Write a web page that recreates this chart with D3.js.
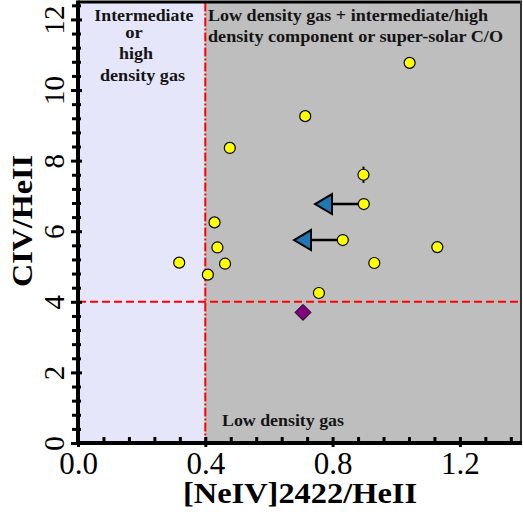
<!DOCTYPE html>
<html>
<head>
<meta charset="utf-8">
<script src="https://cdn.jsdelivr.net/npm/d3@7"></script>
<style>
  html, body { margin: 0; padding: 0; background: #fff; }
  svg { display: block; }
  text { font-family: "Liberation Serif", "Times New Roman", Times, serif; }
</style>
</head>
<body>
<svg id="chart" width="523" height="516"></svg>
<script>
// [NeIV]2422/HeII vs CIV/HeII measurements
const neivHeii = [1.042, 0.714, 0.477, 0.897, 0.898, 0.832, 0.429, 0.438, 0.318, 0.462, 0.408, 0.757, 0.931, 1.129];
const civHeii  = [10.77, 9.26, 8.36, 7.60, 6.77, 5.75, 6.25, 5.54, 5.11, 5.08, 4.77, 4.25, 5.10, 5.55];
const civErr   = [0, 0, 0, 0.23, 0, 0, 0, 0, 0, 0, 0, 0, 0, 0];

// Upper limits on [NeIV]2422/HeII (arrow from the detection to the limit)
const limitFromX = [0.898, 0.832];
const limitToX   = [0.773, 0.707];
const limitY     = [6.77, 5.75];

// Single additional source (diamond)
const diamondX = [0.707];
const diamondY = [3.70];

// Region boundaries
const neivCut = 0.4;
const civCut = 4;

// Axis ticks
const xMajor = [0.0, 0.4, 0.8, 1.2];
const xMinor = [0.08, 0.16, 0.24, 0.32, 0.48, 0.56, 0.64, 0.72, 0.88, 0.96, 1.04, 1.12, 1.28, 1.36];
const yMajor = [0, 2, 4, 6, 8, 10, 12];
const yMinor = [0.4, 0.8, 1.2, 1.6, 2.4, 2.8, 3.2, 3.6, 4.4, 4.8, 5.2, 5.6, 6.4, 6.8, 7.2, 7.6,
                8.4, 8.8, 9.2, 9.6, 10.4, 10.8, 11.2, 11.6, 12.4];

const svg = d3.select("#chart");
const plotL = 78, plotR = 521, plotT = 2.5, plotB = 443;

const x = d3.scaleLinear().domain([0, 1.392]).range([plotL, plotR]);
const y = d3.scaleLinear().domain([0, 12.48]).range([plotB, plotT]);

// Background regions
svg.append("rect")
  .attr("x", x(0)).attr("y", plotT)
  .attr("width", x(neivCut) - x(0)).attr("height", plotB - plotT)
  .attr("fill", "#e6e6fa");
svg.append("rect")
  .attr("x", x(neivCut)).attr("y", plotT)
  .attr("width", plotR - x(neivCut)).attr("height", plotB - plotT)
  .attr("fill", "#bebebe");

// Region labels
const labelColor = "#141414";
const leftLabel = [
  { t: "Intermediate", cx: 143.8, by: 21, w: 99 },
  { t: "or", cx: 134, by: 37.5, w: 17.5 },
  { t: "high", cx: 136, by: 59, w: 34 },
  { t: "density gas", cx: 142.5, by: 81, w: 85 }
];
leftLabel.forEach(d => {
  svg.append("text")
    .attr("x", d.cx).attr("y", d.by)
    .attr("text-anchor", "middle")
    .attr("font-size", 17).attr("font-weight", "bold")
    .attr("fill", labelColor)
    .attr("textLength", d.w).attr("lengthAdjust", "spacingAndGlyphs")
    .text(d.t);
});
const rightLabel = [
  { t: "Low density gas + intermediate/high", x: 208, by: 21, w: 280 },
  { t: "density component or super-solar C/O", x: 208, by: 42, w: 295 }
];
rightLabel.forEach(d => {
  svg.append("text")
    .attr("x", d.x).attr("y", d.by)
    .attr("font-size", 17).attr("font-weight", "bold")
    .attr("fill", labelColor)
    .attr("textLength", d.w).attr("lengthAdjust", "spacingAndGlyphs")
    .text(d.t);
});
svg.append("text")
  .attr("x", 222).attr("y", 426)
  .attr("font-size", 16).attr("font-weight", "bold")
  .attr("fill", labelColor)
  .attr("textLength", 122).attr("lengthAdjust", "spacingAndGlyphs")
  .text("Low density gas");

// Boundary lines
svg.append("line")
  .attr("x1", x(neivCut)).attr("x2", x(neivCut))
  .attr("y1", plotT).attr("y2", plotB)
  .attr("stroke", "#ff0000").attr("stroke-width", 2)
  .attr("stroke-dasharray", "9,2,2,2");
svg.append("line")
  .attr("x1", plotL).attr("x2", plotR)
  .attr("y1", y(civCut)).attr("y2", y(civCut))
  .attr("stroke", "#ff0000").attr("stroke-width", 2)
  .attr("stroke-dasharray", "8,4");

// Upper-limit arrows
limitY.forEach((v, i) => {
  svg.append("line")
    .attr("x1", x(limitFromX[i])).attr("x2", x(limitToX[i]))
    .attr("y1", y(v)).attr("y2", y(v))
    .attr("stroke", "#000").attr("stroke-width", 2.5);
  const cx = x(limitToX[i]), cy = y(v);
  svg.append("path")
    .attr("d", `M${cx - 9},${cy} L${cx + 8},${cy - 10} L${cx + 8},${cy + 10} Z`)
    .attr("fill", "#1f78b4").attr("stroke", "#000").attr("stroke-width", 2)
    .attr("stroke-linejoin", "miter");
});

// Error bars
civHeii.forEach((v, i) => {
  if (civErr[i] > 0) {
    svg.append("line")
      .attr("x1", x(neivHeii[i])).attr("x2", x(neivHeii[i]))
      .attr("y1", y(v - civErr[i])).attr("y2", y(v + civErr[i]))
      .attr("stroke", "#000").attr("stroke-width", 2);
  }
});

// Data points
svg.append("g").selectAll("circle")
  .data(neivHeii.map((d, i) => [d, civHeii[i]]))
  .join("circle")
  .attr("cx", d => x(d[0])).attr("cy", d => y(d[1]))
  .attr("r", 5.5)
  .attr("fill", "#ffff00").attr("stroke", "#000").attr("stroke-width", 1.2);

// Diamond
svg.append("g").selectAll("path")
  .data(diamondX.map((d, i) => [d, diamondY[i]]))
  .join("path")
  .attr("d", d => {
    const cx = x(d[0]), cy = y(d[1]), s = 8;
    return `M${cx},${cy - s} L${cx + s},${cy} L${cx},${cy + s} L${cx - s},${cy} Z`;
  })
  .attr("fill", "#800080").attr("stroke", "#000").attr("stroke-width", 1);

// Frame (top and right)
svg.append("line").attr("x1", plotL).attr("x2", plotR + 1).attr("y1", 2).attr("y2", 2)
  .attr("stroke", "#000").attr("stroke-width", 3);
svg.append("line").attr("x1", plotR).attr("x2", plotR).attr("y1", 1).attr("y2", plotB)
  .attr("stroke", "#333").attr("stroke-width", 2);

// X axis
const xAxis = svg.append("g").attr("transform", `translate(0,${plotB})`);
xAxis.call(d3.axisBottom(x).tickValues(xMajor).tickFormat(d3.format(".1f")).tickSizeOuter(0));
xAxis.select(".domain").remove();
xAxis.selectAll(".tick line").attr("y1", 4).attr("y2", -6).attr("stroke-width", 3);
xAxis.selectAll(".tick text")
  .attr("y", 31).attr("dy", null)
  .attr("font-size", 31).attr("fill", "#000")
  .style("font-family", '"Liberation Serif", "Times New Roman", serif');
const xMinorAxis = svg.append("g").attr("transform", `translate(0,${plotB})`);
xMinorAxis.call(d3.axisBottom(x).tickValues(xMinor).tickFormat("").tickSizeOuter(0));
xMinorAxis.select(".domain").remove();
xMinorAxis.selectAll(".tick line").attr("y1", 1).attr("y2", -6).attr("stroke-width", 3);

// Y axis
const yAxis = svg.append("g").attr("transform", `translate(${plotL},0)`);
yAxis.call(d3.axisLeft(y).tickValues(yMajor).tickFormat(d3.format("d")).tickSizeOuter(0));
yAxis.select(".domain").remove();
yAxis.selectAll(".tick line").attr("x1", -7).attr("x2", 4).attr("stroke-width", 3);
yAxis.selectAll(".tick text")
  .attr("x", null).attr("dy", null)
  .attr("transform", "translate(-14.5,0) rotate(-90)")
  .attr("text-anchor", "middle")
  .attr("font-size", 29).attr("fill", "#000")
  .style("font-family", '"Liberation Serif", "Times New Roman", serif');
const yMinorAxis = svg.append("g").attr("transform", `translate(${plotL},0)`);
yMinorAxis.call(d3.axisLeft(y).tickValues(yMinor).tickFormat("").tickSizeOuter(0));
yMinorAxis.select(".domain").remove();
yMinorAxis.selectAll(".tick line").attr("x1", -6).attr("x2", 3).attr("stroke-width", 3);

// Axis lines
svg.append("line").attr("x1", plotL).attr("x2", plotR + 1).attr("y1", plotB).attr("y2", plotB)
  .attr("stroke", "#000").attr("stroke-width", 4);
svg.append("line").attr("x1", plotL).attr("x2", plotL).attr("y1", 0.5).attr("y2", plotB + 2)
  .attr("stroke", "#000").attr("stroke-width", 4);

// Axis titles
svg.append("text")
  .attr("x", 300).attr("y", 503)
  .attr("text-anchor", "middle")
  .attr("font-size", 30).attr("font-weight", "bold")
  .attr("textLength", 234).attr("lengthAdjust", "spacingAndGlyphs")
  .text("[NeIV]2422/HeII");
svg.append("text")
  .attr("transform", "translate(32,221) rotate(-90)")
  .attr("text-anchor", "middle")
  .attr("font-size", 30).attr("font-weight", "bold")
  .attr("textLength", 132).attr("lengthAdjust", "spacingAndGlyphs")
  .text("CIV/HeII");
</script>
</body>
</html>
